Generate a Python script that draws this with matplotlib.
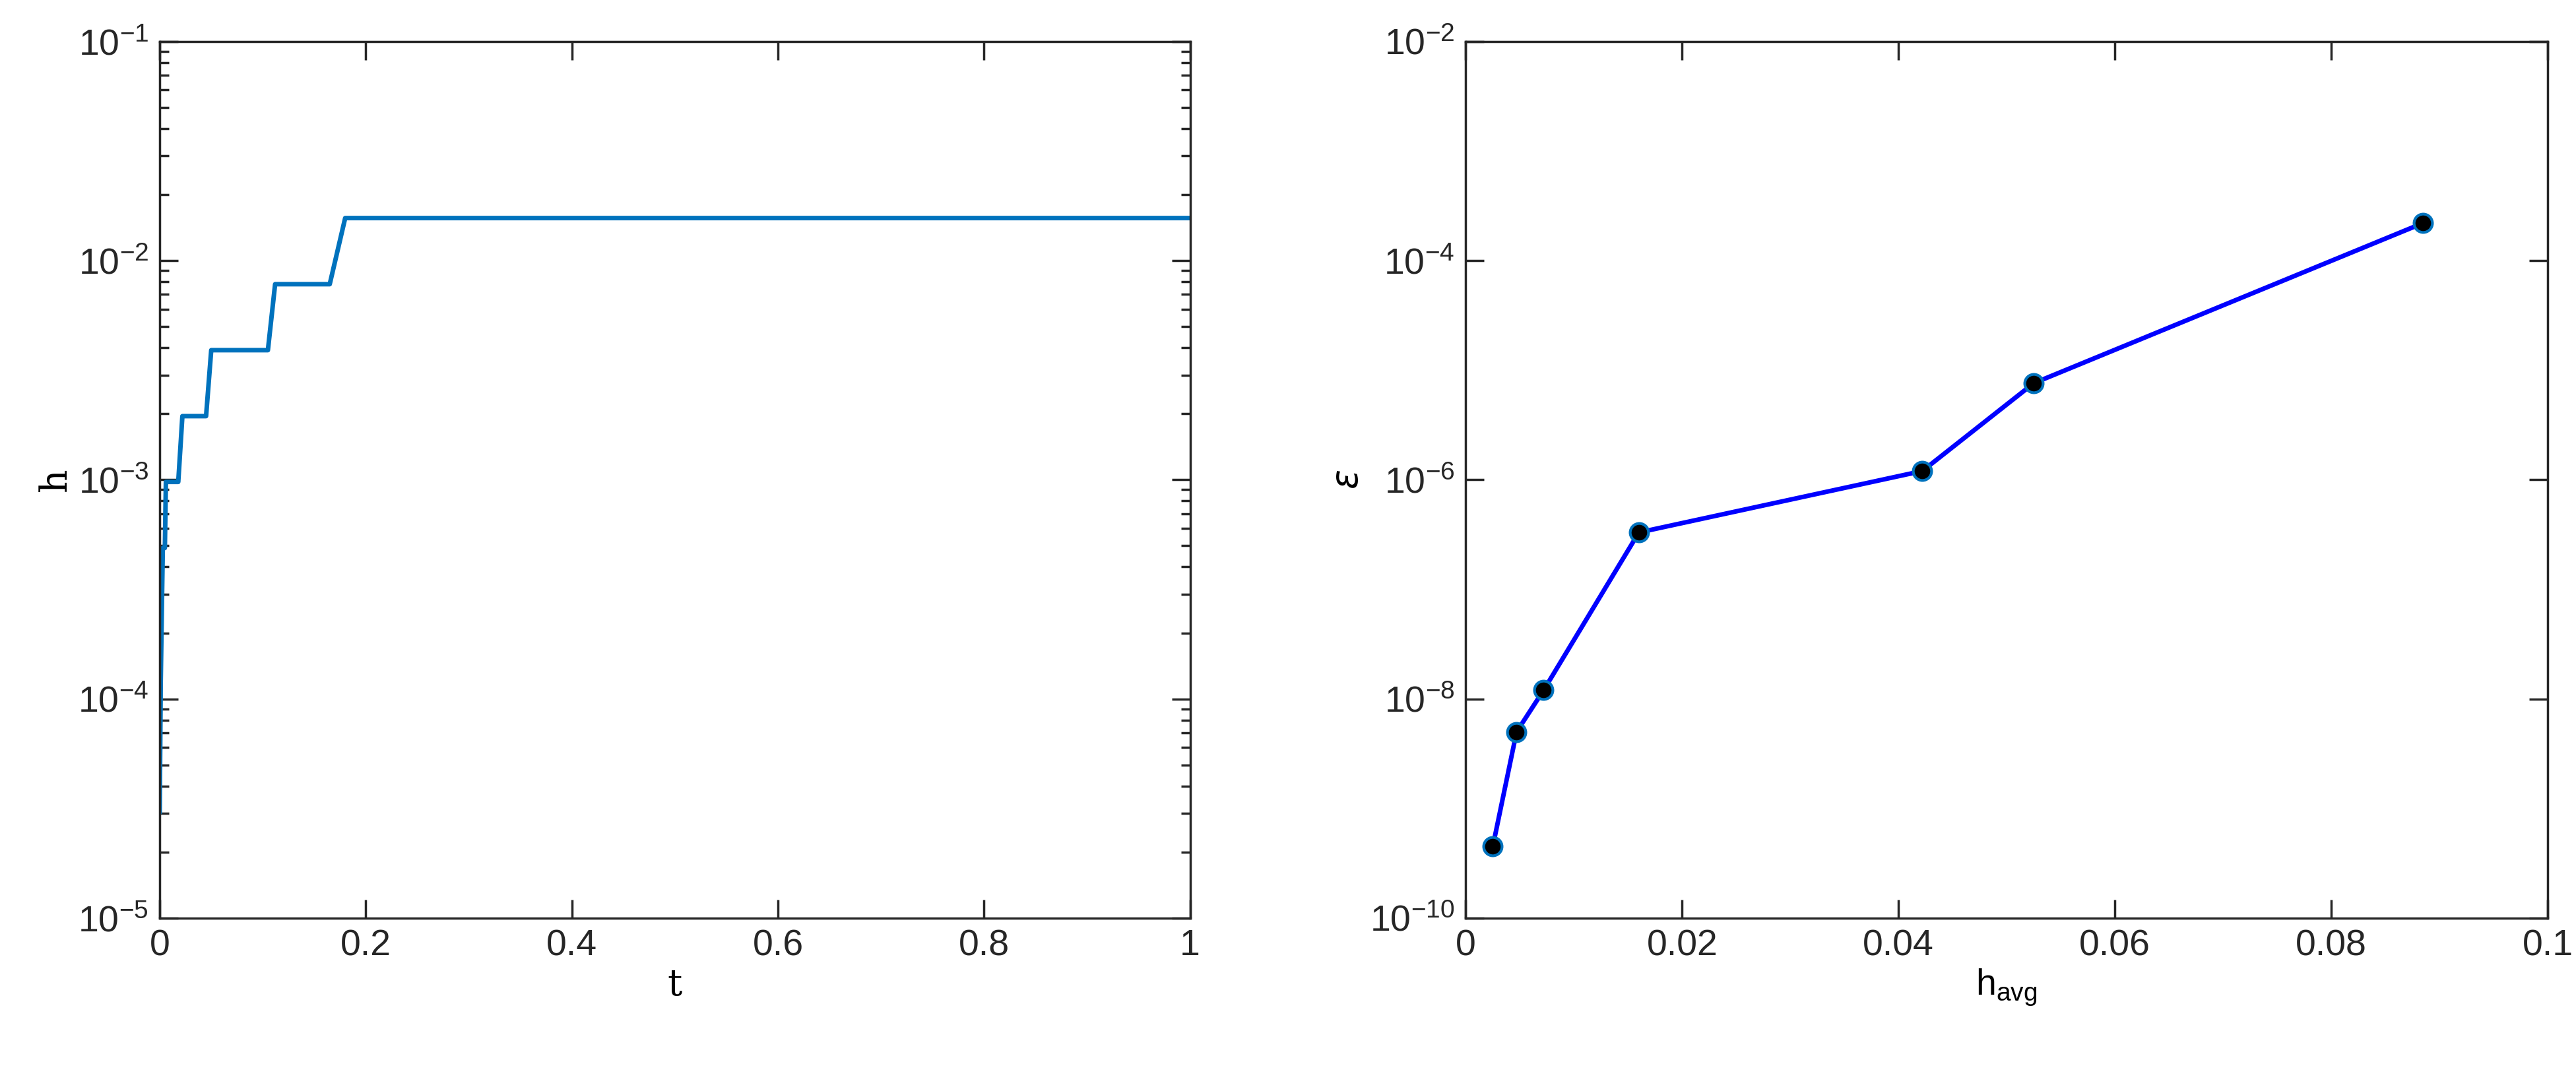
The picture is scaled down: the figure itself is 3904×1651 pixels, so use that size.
import matplotlib
matplotlib.use("Agg")
import matplotlib.pyplot as plt
from matplotlib.ticker import FuncFormatter, NullLocator
import math

t_vals = [0, 0.001, 0.002, 0.003, 0.005, 0.006, 0.008, 0.010, 0.018, 0.022, 0.045, 0.050, 0.105, 0.112, 0.165, 0.180, 1.0]
h_vals = [3.05e-5, 1.2e-4, 2.44e-4, 4.88e-4, 4.88e-4, 9.77e-4, 9.77e-4, 9.77e-4, 9.77e-4, 1.95e-3, 1.95e-3, 3.9e-3, 3.9e-3, 7.8e-3, 7.8e-3, 1.5625e-2, 1.5625e-2]

h_avg = [0.0025, 0.0047, 0.0072, 0.0160, 0.0422, 0.0525, 0.0885]
eps = [4.5e-10, 5.0e-9, 1.2e-8, 3.3e-7, 1.2e-6, 7.6e-6, 2.2e-4]

plt.rcParams['font.family'] = ['Liberation Sans', 'DejaVu Sans']
plt.rcParams['mathtext.fontset'] = 'custom'
plt.rcParams['mathtext.rm'] = 'Liberation Sans'
fig = plt.figure(figsize=(39.04, 16.51), dpi=100)
ax1 = fig.add_axes([0.062, 0.157, 0.400, 0.805])
ax2 = fig.add_axes([0.569, 0.157, 0.420, 0.805])

def logfmt(v, pos):
    e = int(round(math.log10(v)))
    return r'$\mathrm{10^{%d}}$' % e

ax1.plot(t_vals, h_vals, color='#0072BD', lw=5)
ax1.set_yscale('log')
ax1.set_xlim(0, 1)
ax1.set_ylim(1e-5, 1e-1)
ax1.set_xlabel('t', fontsize=40, family='DejaVu Serif')
ax1.set_ylabel('h', fontsize=40, family='DejaVu Serif')

ax2.plot(h_avg, eps, color='#0000FF', lw=5, marker='o', ms=20,
         mfc='black', mec='#0072BD', mew=3)
ax2.set_yscale('log')
ax2.set_xlim(0, 0.1)
ax2.set_ylim(1e-10, 1e-2)
ax2.set_yticks([1e-10, 1e-8, 1e-6, 1e-4, 1e-2])
ax2.yaxis.set_minor_locator(NullLocator())
ax2.set_xticks([0, 0.02, 0.04, 0.06, 0.08, 0.1])
ax2.set_xticklabels(['0', '0.02', '0.04', '0.06', '0.08', '0.1'])
ax2.set_xlabel(r'h$_{\mathrm{avg}}$', fontsize=40)
ax2.set_ylabel(r'$\epsilon$', fontsize=40)

ax1.set_xticks([0, 0.2, 0.4, 0.6, 0.8, 1])
ax1.set_xticklabels(['0', '0.2', '0.4', '0.6', '0.8', '1'])

for ax in (ax1, ax2):
    ax.yaxis.set_major_formatter(FuncFormatter(logfmt))
    ax.tick_params(which='both', direction='in', top=True, right=True, labelsize=40, width=2.5, colors='#262626')
    ax.tick_params(which='major', length=20, pad=12)
    ax.tick_params(which='minor', length=10)
    for s in ax.spines.values():
        s.set_linewidth(2.5)
        s.set_color('#262626')

fig.savefig('out.png', dpi=100)
